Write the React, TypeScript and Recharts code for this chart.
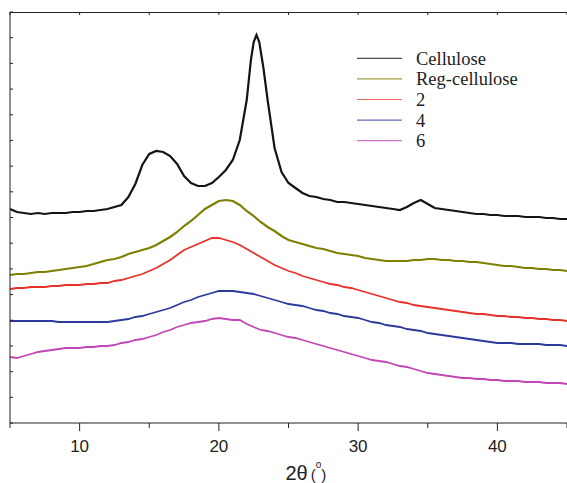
import React from 'react';
import { LineChart, Line, XAxis, YAxis, Legend } from 'recharts';

// 2θ grid (degrees) shared by the four amorphous patterns
const angles = [
  5, 5.5, 6, 6.5, 7, 7.5, 8, 8.5, 9, 9.5, 10, 10.5, 11, 11.5, 12, 12.5, 13, 13.5, 14, 14.5,
  15, 15.5, 16, 16.5, 17, 17.5, 18, 18.5, 19, 19.5, 20, 20.5, 21, 21.5, 22, 22.5, 23, 23.5, 24, 24.5,
  25, 25.5, 26, 26.5, 27, 27.5, 28, 28.5, 29, 29.5, 30, 30.5, 31, 31.5, 32, 32.5, 33, 33.5, 34, 34.5,
  35, 35.5, 36, 36.5, 37, 37.5, 38, 38.5, 39, 39.5, 40, 40.5, 41, 41.5, 42, 42.5, 43, 43.5, 44, 44.5, 45,
];

// Cellulose has a denser grid around the sharp 22.7° peak
const celluloseAngles = [
  5, 5.5, 6, 6.5, 7, 7.5, 8, 8.5, 9, 9.5, 10, 10.5, 11, 11.5, 12, 12.5, 13, 13.5, 14, 14.5,
  15, 15.5, 16, 16.5, 17, 17.5, 18, 18.5, 19, 19.5, 20, 20.5, 21, 21.5, 22, 22.3, 22.5, 22.7, 22.9, 23.2,
  23.5, 24, 24.5, 25, 25.5, 26, 26.5, 27, 27.5, 28, 28.5, 29, 29.5, 30, 30.5, 31, 31.5, 32, 32.5, 33,
  33.5, 34, 34.5, 35, 35.5, 36, 36.5, 37, 37.5, 38, 38.5, 39, 39.5, 40, 40.5, 41, 41.5, 42, 42.5, 43,
  43.5, 44, 44.5, 45,
];

const cellulose = [
  214, 211, 210, 209, 210, 209, 210, 210, 210, 211, 211, 212, 212, 213, 214, 216, 218, 226, 239, 258,
  269, 272, 271, 267, 259, 247, 240, 237, 237, 240, 246, 253, 263, 283, 323, 363, 381, 388, 381, 355,
  323, 275, 251, 240, 235, 230, 227, 226, 224, 223, 221, 221, 220, 219, 218, 217, 216, 215, 214, 213,
  216, 220, 223, 219, 215, 214, 213, 212, 211, 210, 209, 209, 208, 208, 207, 207, 207, 206, 206, 206,
  205, 205, 204, 204,
];

const regCellulose = [
  148, 149, 149, 150, 151, 151, 152, 153, 154, 155, 156, 157, 159, 161, 163, 164, 166, 169, 171, 173,
  175, 178, 182, 186, 191, 197, 202, 208, 214, 218, 222, 223, 222, 218, 212, 207, 201, 196, 192, 187,
  183, 181, 179, 177, 175, 174, 172, 170, 169, 168, 167, 165, 164, 163, 162, 162, 162, 162, 163, 163,
  164, 164, 163, 163, 162, 162, 161, 161, 160, 159, 158, 157, 157, 156, 155, 155, 154, 154, 153, 153, 152,
];

const sample2 = [
  134, 135, 135, 136, 136, 136, 137, 137, 138, 138, 138, 139, 139, 140, 140, 142, 143, 145, 147, 149,
  152, 155, 159, 163, 168, 173, 176, 179, 182, 185, 185, 183, 181, 178, 174, 170, 166, 162, 158, 155,
  152, 150, 147, 145, 143, 141, 139, 138, 136, 135, 133, 131, 129, 127, 125, 123, 121, 120, 118, 117,
  116, 115, 114, 113, 112, 111, 110, 109, 109, 108, 107, 107, 106, 106, 105, 105, 104, 104, 103, 103, 102,
];

const sample4 = [
  102, 102, 102, 102, 102, 102, 102, 101, 101, 101, 101, 101, 101, 101, 101, 102, 103, 104, 106, 107,
  109, 111, 113, 115, 118, 121, 123, 126, 128, 130, 132, 132, 132, 131, 130, 129, 127, 125, 123, 121,
  119, 118, 117, 115, 113, 112, 110, 109, 107, 106, 105, 103, 101, 100, 98, 97, 96, 94, 93, 92,
  90, 89, 88, 87, 86, 85, 84, 83, 82, 81, 80, 80, 80, 79, 79, 79, 79, 78, 78, 78, 77,
];

const sample6 = [
  66, 65, 67, 69, 71, 72, 73, 74, 75, 75, 75, 76, 76, 77, 77, 78, 80, 81, 83, 84,
  86, 88, 91, 93, 96, 98, 100, 101, 102, 104, 105, 104, 103, 103, 99, 96, 93, 92, 90, 88,
  86, 85, 83, 81, 79, 77, 75, 73, 71, 69, 67, 65, 63, 62, 61, 59, 57, 56, 54, 52,
  50, 49, 48, 47, 46, 45, 45, 44, 44, 43, 43, 42, 42, 42, 41, 41, 41, 40, 40, 40, 39,
];

const seriesNames = ['Cellulose', 'Reg-cellulose', '2', '4', '6'];
const seriesColors = ['#141414', '#7f7f00', '#e6322a', '#2c3a9c', '#c246b6'];
const xTickValues = [5, 10, 15, 20, 25, 30, 35, 40, 45];
const xTickLabels = [10, 20, 30, 40];

const toPoints = (xs: number[], ys: number[]) => xs.map((x, i) => ({ x, y: ys[i] }));
const seriesData = [
  toPoints(celluloseAngles, cellulose),
  toPoints(angles, regCellulose),
  toPoints(angles, sample2),
  toPoints(angles, sample4),
  toPoints(angles, sample6),
];

const CHART_W = 567;
const CHART_H = 483;
const PLOT_H = 411;
const Y_MAX = 411;
const yTicks = Array.from({ length: 17 }, (_, i) => (i * Y_MAX) / 16);

const SANS = '"Liberation Sans", Arial, Helvetica, sans-serif';
const SERIF = '"Liberation Serif", "Times New Roman", serif';
const AXIS = '#222';

// bottom ticks (outward, with labels) plus the matching inward ticks on the top frame
const BottomTick = (props: any) => {
  const { x, y, payload } = props;
  const v = payload.value;
  const major = v % 10 === 0;
  const top = y - PLOT_H;
  return (
    <g>
      <line x1={x} x2={x} y1={y} y2={y + (major ? 8 : 5)} stroke={AXIS} strokeWidth={1} />
      <line x1={x} x2={x} y1={top} y2={top + 3} stroke={AXIS} strokeWidth={1} />
      {xTickLabels.includes(v) && (
        <text x={x} y={y + 29} textAnchor="middle" fontSize={17} fontFamily={SANS} fill="#222">
          {v}
        </text>
      )}
    </g>
  );
};

// inward-pointing tick marks on the left axis
const LeftTick = (props: any) => (
  <line x1={props.x} x2={props.x + 3} y1={props.y} y2={props.y} stroke={AXIS} strokeWidth={1} />
);

// top frame line, drawn from the y-axis geometry
const TopFrame = (props: any) => {
  const vb = props.viewBox || { x: 6, y: 12, width: 4 };
  const y = vb.y + 0.5;
  return <line x1={vb.x + vb.width} x2={CHART_W} y1={y} y2={y} stroke={AXIS} strokeWidth={1} />;
};

const AxisTitle = (props: any) => {
  const vb = props.viewBox || { x: 10, width: 557 };
  const cx = vb.x + vb.width / 2;
  return (
    <text x={cx - 3} y={480} fontFamily={SANS} fill="#222">
      <tspan fontSize={20}>2θ</tspan>
      <tspan fontSize={15} dx={3}>(</tspan>
      <tspan fontSize={10} dy={-12}>o</tspan>
      <tspan fontSize={15} dy={12}>)</tspan>
    </text>
  );
};

const LegendBox = () => (
  <svg width={210} height={120} style={{ display: 'block' }}>
    {seriesNames.map((name, i) => {
      const y = 18.3 + i * 20.6;
      return (
        <g key={name}>
          <line x1={7} x2={52} y1={y} y2={y} stroke={seriesColors[i]} strokeWidth={1.2} strokeOpacity={0.75} />
          <text x={66} y={y + 6.5} fontSize={18.5} fontFamily={SERIF} fill="#222">
            {name}
          </text>
        </g>
      );
    })}
  </svg>
);

export default function App() {
  return (
    <div style={{ position: 'absolute', left: 0, top: 0, width: CHART_W, height: CHART_H, overflow: 'hidden', background: '#fff' }}>
      <LineChart width={CHART_W} height={CHART_H} margin={{ top: 12, right: 0, bottom: 0, left: 6 }}>
        <XAxis
          type="number"
          dataKey="x"
          domain={[5, 45]}
          ticks={xTickValues}
          allowDataOverflow
          height={60}
          tickSize={0}
          tickMargin={0}
          tickLine={false}
          tick={<BottomTick />}
          axisLine={{ stroke: AXIS, strokeWidth: 1 }}
          label={AxisTitle}
          interval={0}
        />
        <YAxis
          type="number"
          domain={[0, Y_MAX]}
          ticks={yTicks}
          allowDataOverflow
          width={4}
          tickSize={0}
          tickMargin={0}
          tickLine={false}
          tick={<LeftTick />}
          axisLine={{ stroke: AXIS, strokeWidth: 1 }}
          label={TopFrame}
          interval={0}
        />
        <Legend
          layout="vertical"
          align="center"
          verticalAlign="middle"
          content={LegendBox}
          wrapperStyle={{ left: 350, top: 40, width: 210, height: 120 }}
        />
        {seriesData.map((d, i) => (
          <Line
            key={seriesNames[i]}
            data={d}
            dataKey="y"
            name={seriesNames[i]}
            type="linear"
            stroke={seriesColors[i]}
            strokeWidth={i === 0 || i === 1 ? 2.2 : 1.8}
            dot={false}
            activeDot={false}
            isAnimationActive={false}
          />
        ))}
      </LineChart>
    </div>
  );
}
